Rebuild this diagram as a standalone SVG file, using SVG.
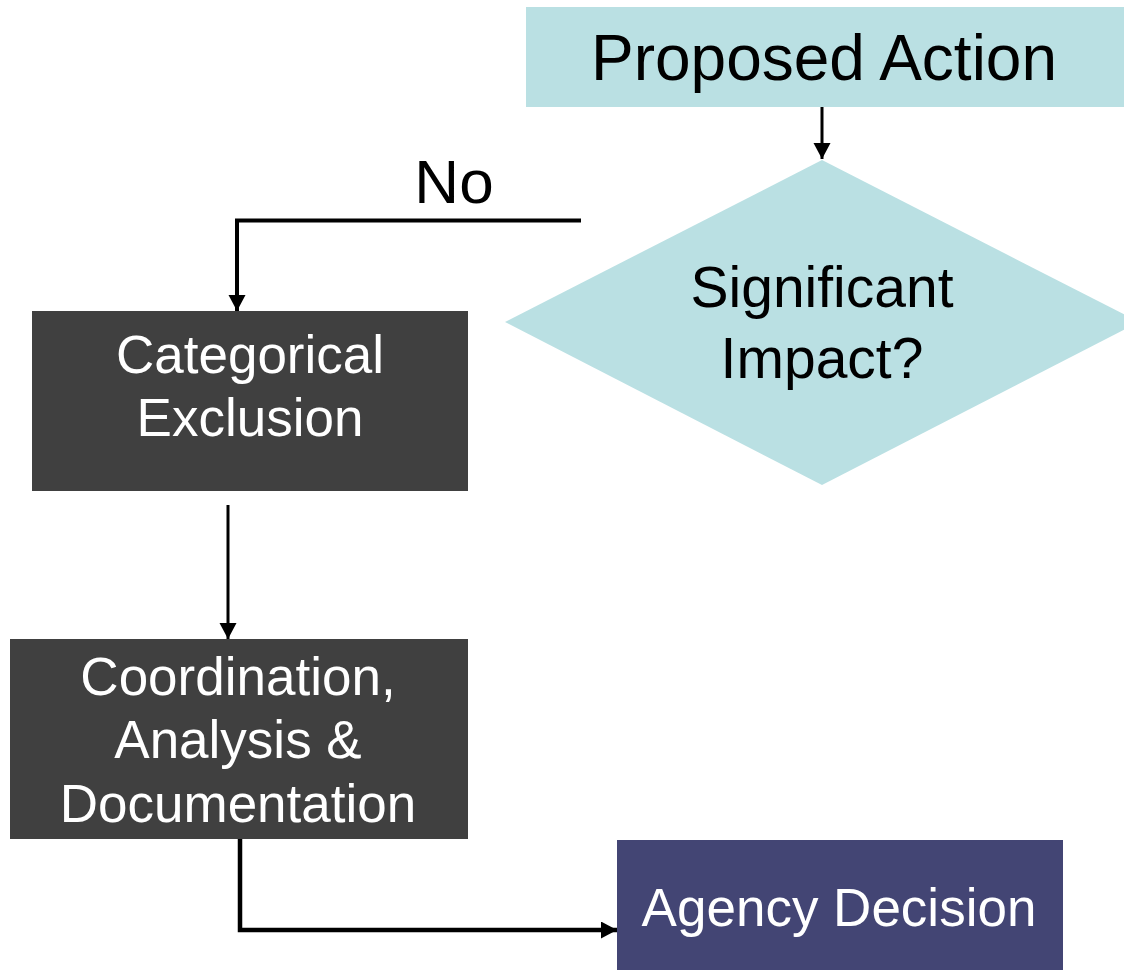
<svg xmlns="http://www.w3.org/2000/svg" width="1124" height="970" viewBox="0 0 1124 970">
<style>
.t{font-family:"Liberation Sans",Arial,sans-serif;text-anchor:middle}
.dk{fill:#ffffff}
.lt{fill:#000000}
.c{fill:none;stroke:#000000;stroke-linejoin:miter}
</style>
<defs>
<marker id="ah" markerUnits="userSpaceOnUse" markerWidth="18" markerHeight="18" refX="16" refY="8.5" orient="auto">
<path d="M0,0 L16,8.5 L0,17 Z" fill="#000000"/>
</marker>
</defs>
<rect width="1124" height="970" fill="#ffffff"/>
<g id="connectors">
<path class="c" d="M822,107 L822,159" stroke-width="3" marker-end="url(#ah)"/>
<path class="c" d="M581,220.5 L237,220.5 L237,311" stroke-width="4" marker-end="url(#ah)"/>
<path class="c" d="M228,505 L228,639" stroke-width="3" marker-end="url(#ah)"/>
<path class="c" d="M240,839 L240,930 L617,930" stroke-width="4.5" marker-end="url(#ah)"/>
<text class="t lt" x="454" y="203" font-size="62">No</text>
</g>
<g id="proposed-action">
<rect x="526" y="7" width="600" height="100" fill="#BAE0E3"/>
<text class="t lt" x="824" y="80" font-size="64">Proposed Action</text>
</g>
<g id="significant-impact">
<polygon points="822,160 1139,322 822,485 505,322" fill="#BAE0E3"/>
<text class="t lt" x="822" y="307" font-size="57">Significant</text>
<text class="t lt" x="822" y="378" font-size="57">Impact?</text>
</g>
<g id="categorical-exclusion">
<rect x="32" y="311" width="436" height="180" fill="#404040"/>
<text class="t dk" x="250" y="373" font-size="53">Categorical</text>
<text class="t dk" x="250" y="436" font-size="53">Exclusion</text>
</g>
<g id="coordination">
<rect x="10" y="639" width="458" height="200" fill="#404040"/>
<text class="t dk" x="238" y="695" font-size="53">Coordination,</text>
<text class="t dk" x="238" y="758" font-size="53">Analysis &amp;</text>
<text class="t dk" x="238" y="822" font-size="53">Documentation</text>
</g>
<g id="agency-decision">
<rect x="617" y="840" width="446" height="130" fill="#434574"/>
<text class="t dk" x="839" y="926" font-size="53">Agency Decision</text>
</g>
</svg>
